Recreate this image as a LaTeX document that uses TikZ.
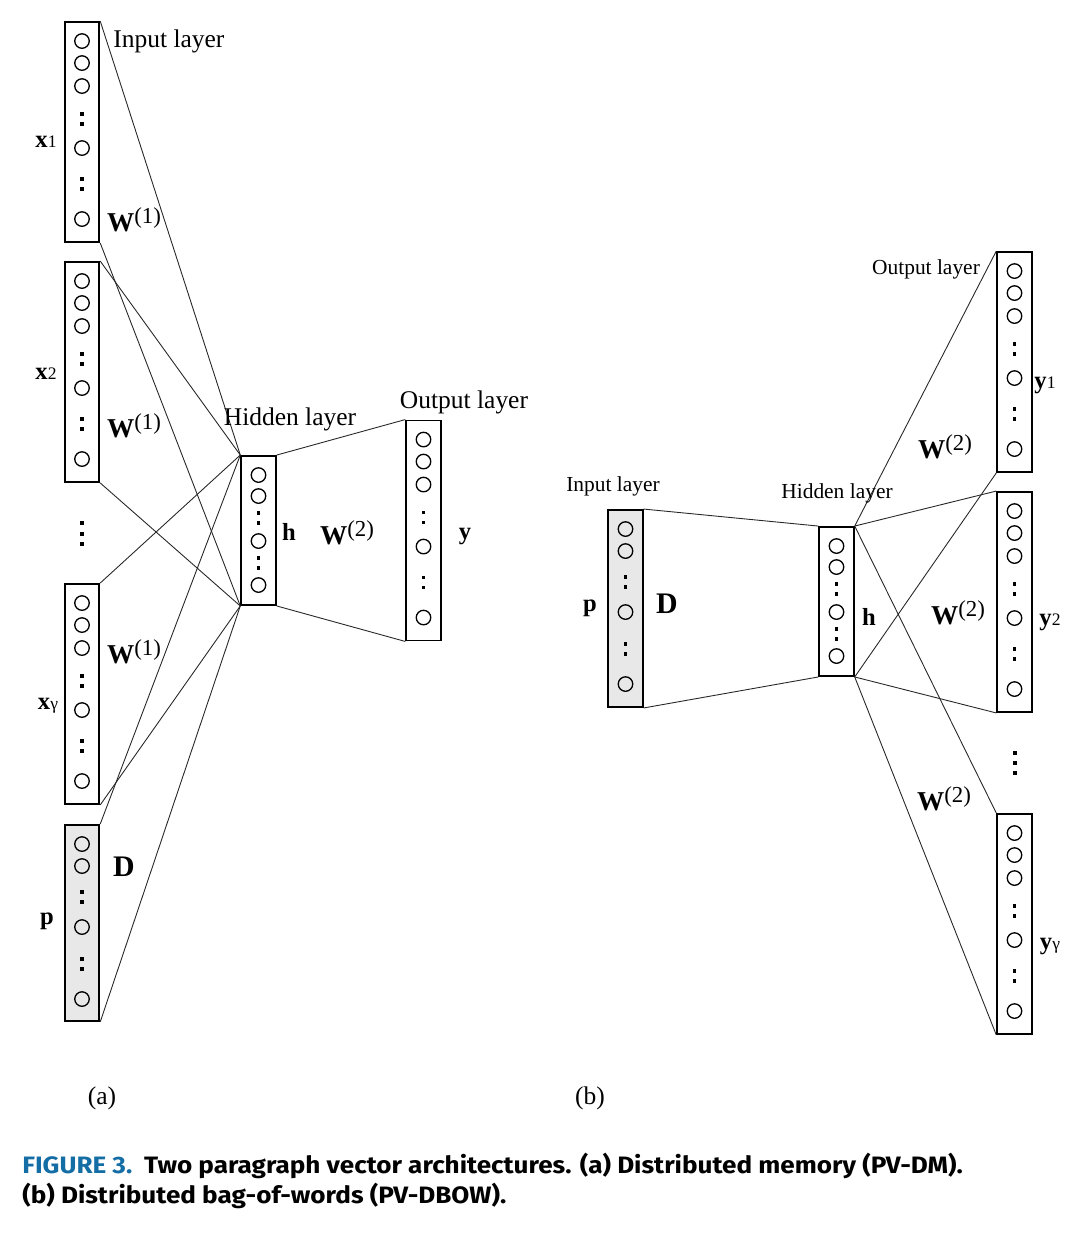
\documentclass[tikz,border=0pt]{standalone}
\usepackage{fontspec}
\setmainfont{Liberation Serif}
\newfontfamily\capfont[FakeStretch=1.1]{Fira Sans}
\definecolor{capblue}{RGB}{20,110,165}
\usetikzlibrary{calc}
\newcommand{\wmat}[1]{\textbf{W}\raisebox{4.5pt}{\fontsize{13}{15}\selectfont(#1)}}
\newcommand{\vsub}[2]{\textbf{#1}{\fontsize{10}{12}\selectfont #2}}

\begin{document}
\begin{tikzpicture}[
    x=0.02cm, y=-0.02cm,
    layerbox/.style={rectangle, draw, line width=1.1pt, minimum width=0.69cm, inner sep=0pt},
    wordbox/.style={layerbox, minimum height=4.4cm},
    parbox/.style={layerbox, fill=black!9},
    unit/.style={line width=0.75pt},
    wire/.style={line width=0.5pt, black!85},
    lbla/.style={font=\fontsize{14.5}{17}\selectfont, inner sep=0pt},
    lblb/.style={font=\fontsize{12.2}{14}\selectfont, inner sep=0pt},
    vec/.style={font=\fontsize{14}{16}\selectfont, inner sep=0pt},
    wlbl/.style={font=\fontsize{15.5}{18}\selectfont, inner sep=0pt},
    dlbl/.style={font=\fontsize{17}{20}\selectfont\bfseries, inner sep=0pt}
  ]
    \useasboundingbox[fill=white] (0,0) rectangle (1090,1242);

    % (a) PV-DM: word and paragraph inputs
    \node[wordbox] (xone) at (82,132) {};
    \node[wordbox] (xtwo) at (82,372) {};
    \node[wordbox] (xgam) at (82,694) {};
    \node[parbox, minimum height=3.92cm] (pa) at (82,923) {};
    \node[layerbox, minimum height=2.98cm] (hida) at (258.5,530.5) {};
    \node[wordbox] (outa) at (423.5,530.5) {};

    % (b) PV-DBOW
    \node[parbox, minimum height=3.94cm] (pb) at (625.5,608.5) {};
    \node[layerbox, minimum height=2.98cm] (hidb) at (836.5,601.5) {};
    \node[wordbox] (yone) at (1014.5,362) {};
    \node[wordbox] (ytwo) at (1014.5,602) {};
    \node[wordbox] (ygam) at (1014.5,924) {};

    % units inside the boxes
    \foreach \b in {xone,xtwo,xgam,outa,yone,ytwo,ygam} {
      \foreach \d in {20,42,65,127,198}
        \draw[unit] ($(\b.north)+(0,\d)$) circle[radius=0.145cm];
      \foreach \d in {98,163} {
        \path ($(\b.north)+(0,\d)$) coordinate (c);
        \fill ($(c)+(-1.8,-6.8)$) rectangle +(3.6,3.6);
        \fill ($(c)+(-1.8,3.2)$) rectangle +(3.6,3.6);
      }
    }
    \foreach \b in {pa,pb} {
      \foreach \d in {20,42,103,175}
        \draw[unit] ($(\b.north)+(0,\d)$) circle[radius=0.145cm];
      \foreach \d in {73,140} {
        \path ($(\b.north)+(0,\d)$) coordinate (c);
        \fill ($(c)+(-1.8,-6.8)$) rectangle +(3.6,3.6);
        \fill ($(c)+(-1.8,3.2)$) rectangle +(3.6,3.6);
      }
    }
    \foreach \b in {hida,hidb} {
      \foreach \d in {20,41,86,130}
        \draw[unit] ($(\b.north)+(0,\d)$) circle[radius=0.145cm];
      \foreach \d in {63,108} {
        \path ($(\b.north)+(0,\d)$) coordinate (c);
        \fill ($(c)+(-1.8,-6.8)$) rectangle +(3.6,3.6);
        \fill ($(c)+(-1.8,3.2)$) rectangle +(3.6,3.6);
      }
    }

    % vertical ellipses between boxes
    \foreach \v in {523,533.5,544}
      \fill (80,\v-2) rectangle +(4,4);
    \foreach \v in {753,763,773}
      \fill (1012.5,\v-2) rectangle +(4,4);

    % connections (a)
    \foreach \b in {xone,xtwo,xgam,pa} {
      \draw[wire] (\b.north east) -- (hida.north west);
      \draw[wire] (\b.south east) -- (hida.south west);
    }
    \draw[wire] (hida.north east) -- (outa.north west);
    \draw[wire] (hida.south east) -- (outa.south west);

    % connections (b)
    \draw[wire] (pb.north east) -- (hidb.north west);
    \draw[wire] (pb.south east) -- (hidb.south west);
    \foreach \b in {yone,ytwo,ygam} {
      \draw[wire] (hidb.north east) -- (\b.north west);
      \draw[wire] (hidb.south east) -- (\b.south west);
    }

    % labels (a)
    \node[lbla, anchor=west] (inlbla) at (113,41) {Input layer};
    \node[lbla] (hidlbla) at (290,419) {Hidden layer};
    \node[lbla] (outlbla) at (464,402) {Output layer};
    \node[vec] (xonelbl) at (46,142) {\vsub{x}{1}};
    \node[vec] (xtwolbl) at (46,374) {\vsub{x}{2}};
    \node[vec] (xgamlbl) at (48,706) {\vsub{x}{γ}};
    \node[vec] (palbl) at (47,921) {\textbf{p}};
    \node[wlbl] (wa1) at (134,220) {\wmat{1}};
    \node[wlbl] (wa2) at (134,426) {\wmat{1}};
    \node[wlbl] (wa3) at (134,652) {\wmat{1}};
    \node[dlbl] (dlbla) at (124,867) {D};
    \node[vec] (hlbla) at (289,532) {\textbf{h}};
    \node[wlbl] (wa4) at (347,533) {\wmat{2}};
    \node[vec] (ylbla) at (465,536) {\textbf{y}};

    % labels (b)
    \node[lblb] (inlblb) at (613,486) {Input layer};
    \node[lblb] (hidlblb) at (837,493) {Hidden layer};
    \node[lblb] (outlblb) at (926,269) {Output layer};
    \node[vec] (pblbl) at (590,608) {\textbf{p}};
    \node[dlbl] (dlblb) at (667,604) {D};
    \node[vec] (hlblb) at (869,617) {\textbf{h}};
    \node[vec] (yonelbl) at (1045,385) {\vsub{y}{1}};
    \node[vec] (ytwolbl) at (1050,622) {\vsub{y}{2}};
    \node[vec] (ygamlbl) at (1050,946) {\vsub{y}{γ}};
    \node[wlbl] (wb1) at (945,447) {\wmat{2}};
    \node[wlbl] (wb2) at (958,613) {\wmat{2}};
    \node[wlbl] (wb3) at (944,799) {\wmat{2}};

    % sub-figure tags and caption
    \node[lbla] (taga) at (102,1098) {(a)};
    \node[lbla] (tagb) at (590,1098) {(b)};
    \node[anchor=base west, inner sep=0pt, font=\capfont\bfseries\fontsize{13.5}{15}\selectfont] (capone) at (22,1173)
      {{\color{capblue}FIGURE 3.}\enspace Two paragraph vector architectures. (a) Distributed memory (PV-DM).};
    \node[anchor=base west, inner sep=0pt, font=\capfont\bfseries\fontsize{13.5}{15}\selectfont] (captwo) at (22,1203)
      {(b) Distributed bag-of-words (PV-DBOW).};
\end{tikzpicture}
\end{document}
